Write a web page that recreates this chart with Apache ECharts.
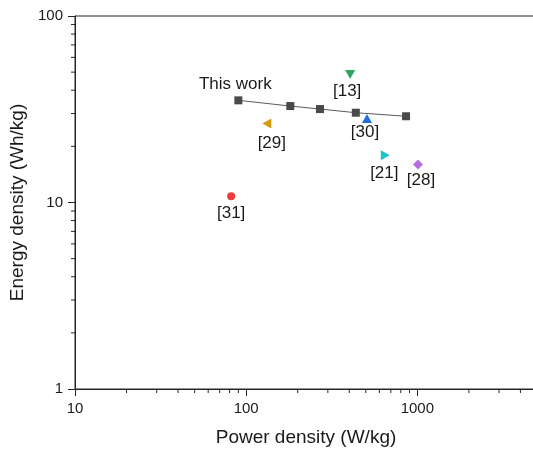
<!DOCTYPE html>
<html>
<head>
<meta charset="utf-8">
<script src="https://cdn.jsdelivr.net/npm/echarts@6/dist/echarts.min.js"></script>
<style>html,body{margin:0;padding:0;background:#fff}#c{width:533px;height:450px}</style>
</head>
<body>
<div id="c"></div>
<script>
// ---- data ----
const thisWorkPower = [90, 181, 270, 437, 859];
const thisWorkEnergy = [35.3, 32.9, 31.7, 30.3, 29.0];
const refLabels = ['[13]', '[30]', '[21]', '[28]', '[29]', '[31]'];
const refPower = [405, 508, 650, 1009, 132, 81.7];
const refEnergy = [48.5, 28.2, 17.9, 16.0, 26.5, 10.8];
const xMajorTicks = [10, 100, 1000];
const yMajorTicks = [1, 10, 100];
const xMinorTicks = [20, 30, 40, 50, 60, 70, 80, 90, 200, 300, 400, 500, 600, 700, 800, 900, 2000, 3000, 4000];
const yMinorTicks = [2, 3, 4, 5, 6, 7, 8, 9, 20, 30, 40, 50, 60, 70, 80, 90];

// ---- styles ----
const refStyles = [
  { symbol: 'triangle', rotate: 180, size: [10, 9], color: '#2ca55e', offset: [-3, 17] },
  { symbol: 'triangle', rotate: 0, size: [10, 9], color: '#1f6fe3', offset: [-2, 14] },
  { symbol: 'triangle', rotate: -90, size: [10, 9], color: '#1cc6c8', offset: [-1, 18] },
  { symbol: 'diamond', rotate: 0, size: [10, 10], color: '#b470e0', offset: [3, 16] },
  { symbol: 'triangle', rotate: 90, size: [10, 9], color: '#d49b0c', offset: [5, 20] },
  { symbol: 'circle', rotate: 0, size: 8, color: '#ef3b3b', offset: [0, 17] }
];

const txt = '#1a1a1a';
const axisColor = '#262626';
const font = 'Liberation Sans, Arial, sans-serif';

const chart = echarts.init(document.getElementById('c'), null, { renderer: 'canvas' });

const labelBase = { color: txt, fontSize: 17, fontFamily: font, textBorderWidth: 0, textBorderColor: 'transparent' };

const refSeries = refLabels.map((lab, i) => ({
  type: 'scatter',
  z: 4,
  data: [[refPower[i], refEnergy[i]]],
  symbol: refStyles[i].symbol,
  symbolRotate: refStyles[i].rotate,
  symbolSize: refStyles[i].size,
  itemStyle: { color: refStyles[i].color, opacity: 1 },
  label: Object.assign({
    show: true,
    position: 'inside',
    offset: refStyles[i].offset,
    formatter: lab
  }, labelBase),
  emphasis: { disabled: true }
}));

chart.setOption({
  animation: false,
  grid: {
    left: 75, top: 16, right: -4, bottom: 61,
    containLabel: false,
    outerBoundsMode: 'none',
    show: true, borderColor: axisColor, borderWidth: 1
  },
  xAxis: {
    type: 'log', logBase: 10, min: 10, max: 5000, interval: 1,
    name: 'Power density (W/kg)', nameLocation: 'middle', nameGap: 39,
    nameTextStyle: { fontSize: 19, color: txt, fontFamily: font },
    axisLine: { show: true, lineStyle: { color: axisColor, width: 1 } },
    axisTick: { show: true, length: 7, inside: false, lineStyle: { color: axisColor } },
    splitLine: { show: false },
    axisLabel: {
      fontSize: 15, color: txt, fontFamily: font, margin: 12,
      formatter: v => (xMajorTicks.some(t => Math.abs(t - v) < 1e-6) ? String(Math.round(v)) : '')
    }
  },
  yAxis: {
    type: 'log', logBase: 10, min: 1, max: 100, interval: 1,
    name: 'Energy density (Wh/kg)', nameLocation: 'middle', nameGap: 45,
    nameTextStyle: { fontSize: 19, color: txt, fontFamily: font },
    axisLine: { show: true, lineStyle: { color: axisColor, width: 1 } },
    axisTick: { show: true, length: 7, inside: false, lineStyle: { color: axisColor } },
    splitLine: { show: false },
    axisLabel: {
      fontSize: 15, color: txt, fontFamily: font, margin: 12,
      formatter: v => (yMajorTicks.some(t => Math.abs(t - v) < 1e-6) ? String(Math.round(v)) : '')
    }
  },
  series: [
    {
      type: 'custom',
      silent: true,
      clip: false,
      data: xMinorTicks.map(v => [v, 1]),
      renderItem: (params, api) => {
        const p = api.coord([api.value(0), api.value(1)]);
        return { type: 'line', shape: { x1: p[0], y1: p[1], x2: p[0], y2: p[1] + 4 }, style: { stroke: axisColor, lineWidth: 1 } };
      }
    },
    {
      type: 'custom',
      silent: true,
      clip: false,
      data: yMinorTicks.map(v => [10, v]),
      renderItem: (params, api) => {
        const p = api.coord([api.value(0), api.value(1)]);
        return { type: 'line', shape: { x1: p[0] - 4, y1: p[1], x2: p[0], y2: p[1] }, style: { stroke: axisColor, lineWidth: 1 } };
      }
    },
    {
      type: 'line',
      z: 3,
      data: thisWorkPower.map((p, i) => i === 0 ? {
        value: [p, thisWorkEnergy[i]],
        label: Object.assign({ show: true, position: 'inside', offset: [-3, -16], formatter: 'This work' }, labelBase)
      } : [p, thisWorkEnergy[i]]),
      symbol: 'rect',
      symbolSize: 8,
      showAllSymbol: true,
      itemStyle: { color: '#4a4a4a', opacity: 1 },
      lineStyle: { color: '#5a5a5a', width: 1 },
      emphasis: { disabled: true }
    },
    ...refSeries
  ]
});
</script>
</body>
</html>
